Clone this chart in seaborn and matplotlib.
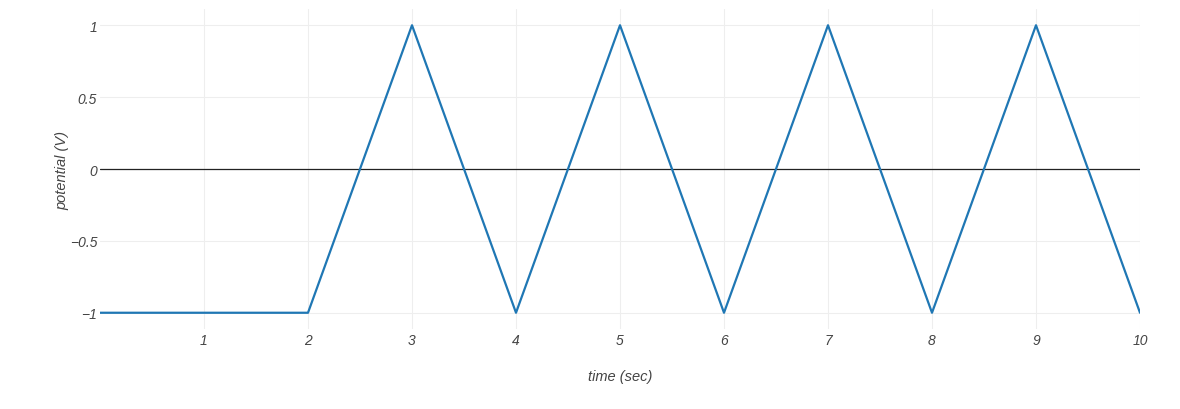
import pandas as pd
import matplotlib.pyplot as plt
import seaborn as sns

# triangle waveform
time_sec = [0, 2, 3, 4, 5, 6, 7, 8, 9, 10]
potential = [-1, -1, 1, -1, 1, -1, 1, -1, 1, -1]

x_ticks = [1, 2, 3, 4, 5, 6, 7, 8, 9, 10]
y_ticks = [-1, -0.5, 0, 0.5, 1]
y_labels = ["\u22121", "\u22120.5", "0", "0.5", "1"]

df = pd.DataFrame({"time": time_sec, "potential": potential})

sns.set_style("white")
plt.rcParams['font.family'] = ['Liberation Sans', 'DejaVu Sans']

fig = plt.figure(figsize=(11.8, 4.1), dpi=100)
ax = fig.add_axes([100 / 1180, 80 / 410, 1040 / 1180, 320 / 410])

sns.lineplot(data=df, x="time", y="potential", ax=ax, color="#1f77b4",
             linewidth=1.6, zorder=3)

ax.set_xlim(0, 10)
ax.set_ylim(-1.113, 1.113)
ax.set_xticks(x_ticks)
ax.set_xticklabels([str(t) for t in x_ticks])
ax.set_yticks(y_ticks)
ax.set_yticklabels(y_labels)

ax.grid(True, color="#eeeeee", linewidth=0.8, zorder=0)
ax.axhline(0, color="#222222", linewidth=0.9, zorder=2)

for s in ax.spines.values():
    s.set_visible(False)

ax.tick_params(axis="both", length=0, labelsize=10, labelcolor="#444444")
ax.tick_params(axis="x", pad=3)
ax.tick_params(axis="y", pad=2)
for lbl in ax.get_xticklabels() + ax.get_yticklabels():
    lbl.set_fontstyle("italic")

ax.set_xlabel("time (sec)", fontsize=10.5, style="italic", color="#444444", labelpad=16)
ax.set_ylabel("potential (V)", fontsize=10.5, style="italic", color="#444444", labelpad=0)

fig.savefig("out.png", dpi=100)
